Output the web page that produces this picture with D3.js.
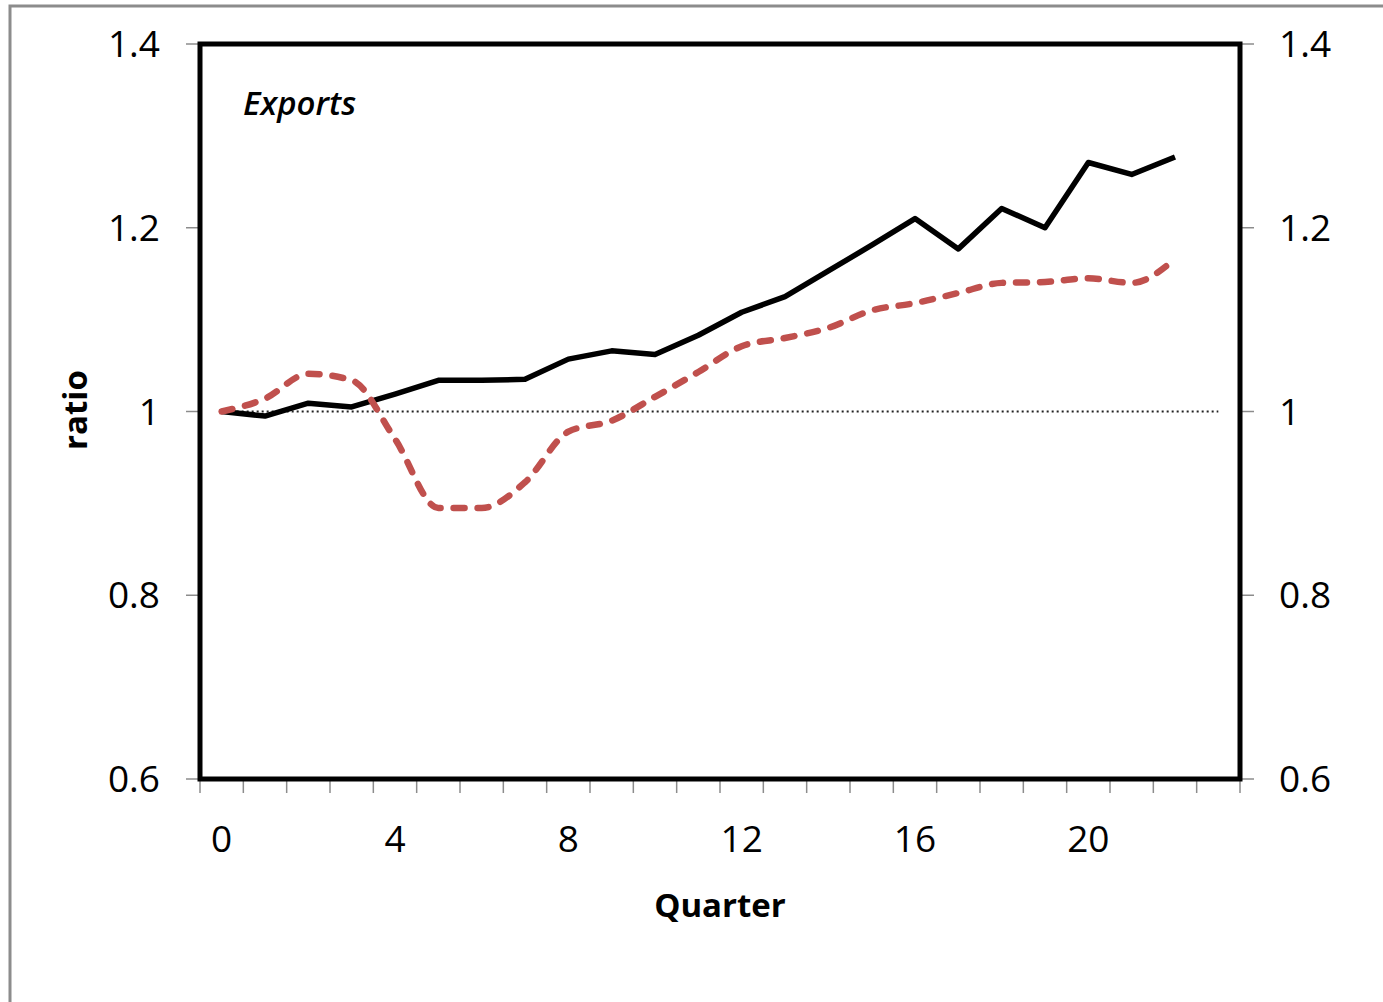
<!DOCTYPE html>
<html>
<head>
<meta charset="utf-8">
<script src="https://cdn.jsdelivr.net/npm/d3@7"></script>
<style>
  body { margin: 0; background: #fff; }
  text { font-family: "Open Sans", sans-serif; fill: #000; }
</style>
</head>
<body>
<svg id="chart" width="1383" height="1002"></svg>
<script>
  // quarters 0..23 on a category axis, labels every 4
  var quarters = d3.range(0, 24);
  var tickLabels = [0, 4, 8, 12, 16, 20];
  var yTicks = [0.6, 0.8, 1, 1.2, 1.4];

  // black solid series (quarters 0..22)
  var solidSeries = [1.000, 0.995, 1.009, 1.005, 1.019, 1.034, 1.034, 1.035, 1.057, 1.066,
                     1.062, 1.083, 1.108, 1.125, 1.153, 1.181, 1.210, 1.177, 1.221, 1.200,
                     1.271, 1.258, 1.277];
  // red dashed series (quarters 0..22)
  var dashedSeries = [1.000, 1.014, 1.041, 1.034, 0.970, 0.895, 0.895, 0.923, 0.978, 0.990,
                      1.016, 1.043, 1.071, 1.080, 1.091, 1.110, 1.118, 1.129, 1.140, 1.141,
                      1.145, 1.140, 1.166];
  // reference line at 1
  var baseline = quarters.map(function() { return 1; });

  var svg = d3.select("#chart");

  var plotLeft = 200, plotRight = 1240, plotTop = 44, plotBottom = 779;

  var x = d3.scaleBand().domain(quarters).range([plotLeft, plotRight]);
  var y = d3.scaleLinear().domain([0.6, 1.4]).range([plotBottom, plotTop]);
  var cx = function(i) { return x(i) + x.bandwidth() / 2; };

  // outer chart-area border (grey, runs off the page right and bottom)
  svg.append("rect")
      .attr("x", 10).attr("y", 6)
      .attr("width", 1400).attr("height", 1100)
      .attr("fill", "#fff")
      .attr("stroke", "#8c8c8c")
      .attr("stroke-width", 3);

  // tick marks
  var grey = "#8c8c8c";
  svg.append("g").selectAll("line")
      .data(yTicks).enter().append("line")
      .attr("x1", plotLeft - 14).attr("x2", plotLeft)
      .attr("y1", function(d) { return y(d); })
      .attr("y2", function(d) { return y(d); })
      .attr("stroke", grey).attr("stroke-width", 1.5);
  svg.append("g").selectAll("line")
      .data(yTicks).enter().append("line")
      .attr("x1", plotRight).attr("x2", plotRight + 14)
      .attr("y1", function(d) { return y(d); })
      .attr("y2", function(d) { return y(d); })
      .attr("stroke", grey).attr("stroke-width", 1.5);
  svg.append("g").selectAll("line")
      .data(d3.range(0, 25)).enter().append("line")
      .attr("x1", function(d) { return plotLeft + d * x.step(); })
      .attr("x2", function(d) { return plotLeft + d * x.step(); })
      .attr("y1", plotBottom).attr("y2", plotBottom + 14)
      .attr("stroke", grey).attr("stroke-width", 1.5);

  // tick labels
  var fmt = function(d) { return d === 1 ? "1" : d3.format(".1f")(d); };
  svg.append("g").selectAll("text")
      .data(yTicks).enter().append("text")
      .attr("x", 160)
      .attr("y", function(d) { return y(d) + 13; })
      .attr("text-anchor", "end")
      .attr("font-size", 37)
      .text(fmt);
  svg.append("g").selectAll("text")
      .data(yTicks).enter().append("text")
      .attr("x", 1279)
      .attr("y", function(d) { return y(d) + 13; })
      .attr("text-anchor", "start")
      .attr("font-size", 37)
      .text(fmt);
  svg.append("g").selectAll("text")
      .data(tickLabels).enter().append("text")
      .attr("x", function(d) { return cx(d); })
      .attr("y", 852)
      .attr("text-anchor", "middle")
      .attr("font-size", 37)
      .text(function(d) { return d; });

  // axis titles
  svg.append("text")
      .attr("x", 720).attr("y", 917)
      .attr("text-anchor", "middle")
      .attr("font-size", 33)
      .attr("font-weight", "bold")
      .text("Quarter");
  svg.append("text")
      .attr("transform", "translate(87,410) rotate(-90)")
      .attr("text-anchor", "middle")
      .attr("font-size", 33)
      .attr("font-weight", "bold")
      .text("ratio");

  svg.append("text")
      .attr("x", 243).attr("y", 115)
      .attr("font-size", 33)
      .attr("font-weight", 600)
      .attr("font-style", "italic")
      .text("Exports");

  // lines
  var line = d3.line()
      .x(function(d, i) { return cx(i); })
      .y(function(d) { return y(d); });

  svg.append("path")
      .datum(baseline)
      .attr("d", line)
      .attr("fill", "none")
      .attr("stroke", "#222")
      .attr("stroke-width", 2)
      .attr("stroke-dasharray", "2,3");

  svg.append("path")
      .datum(solidSeries)
      .attr("d", line)
      .attr("fill", "none")
      .attr("stroke", "#000")
      .attr("stroke-width", 5.5)
      .attr("stroke-linejoin", "round");

  var smooth = d3.line()
      .x(function(d, i) { return cx(i); })
      .y(function(d) { return y(d); })
      .curve(d3.curveMonotoneX);

  svg.append("path")
      .datum(dashedSeries)
      .attr("d", smooth)
      .attr("fill", "none")
      .attr("stroke", "#c0504d")
      .attr("stroke-width", 6.5)
      .attr("stroke-linecap", "round")
      .attr("stroke-dasharray", "11,13");

  // plot frame
  svg.append("rect")
      .attr("x", plotLeft).attr("y", plotTop)
      .attr("width", plotRight - plotLeft).attr("height", plotBottom - plotTop)
      .attr("fill", "none")
      .attr("stroke", "#000")
      .attr("stroke-width", 5);
</script>
</body>
</html>
